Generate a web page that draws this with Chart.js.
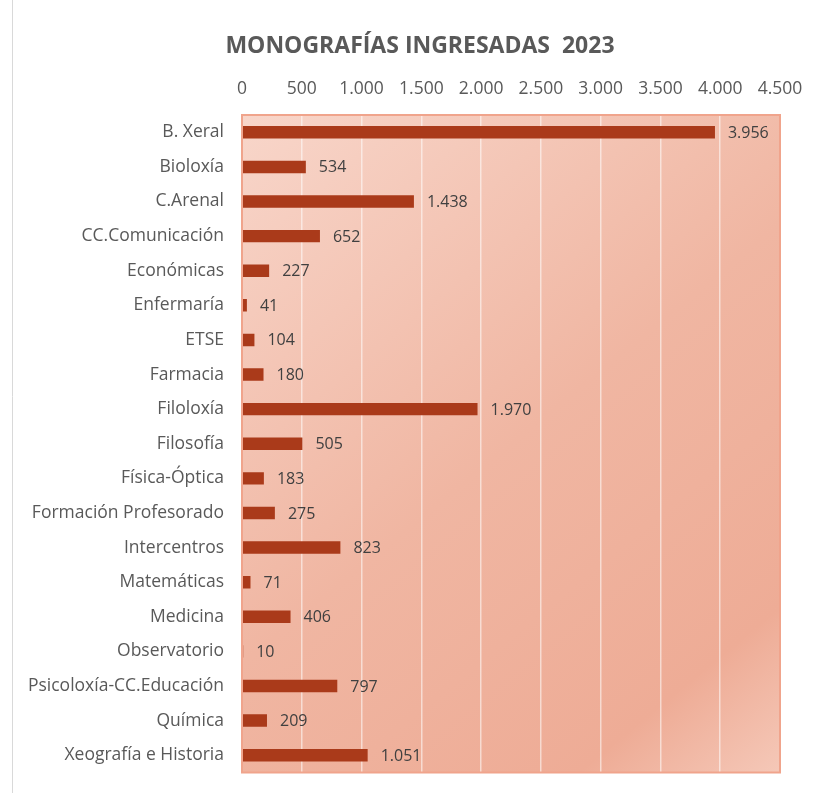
<!DOCTYPE html>
<html><head><meta charset="utf-8">
<script src="https://cdn.jsdelivr.net/npm/chart.js@4/dist/chart.umd.min.js"></script>
<style>html,body{margin:0;padding:0;background:#fff;}#wrap{width:819px;height:793px;position:relative;}</style>
</head><body><div id="wrap"><canvas id="c"></canvas></div>
<script>
const categories = ["B. Xeral","Bioloxía","C.Arenal","CC.Comunicación","Económicas","Enfermaría","ETSE","Farmacia","Filoloxía","Filosofía","Física-Óptica","Formación Profesorado","Intercentros","Matemáticas","Medicina","Observatorio","Psicoloxía-CC.Educación","Química","Xeografía e Historia"];
const values = [3956,534,1438,652,227,41,104,180,1970,505,183,275,823,71,406,10,797,209,1051];
const tickValues = [0,500,1000,1500,2000,2500,3000,3500,4000,4500];
const titleText = "MONOGRAFÍAS INGRESADAS  2023";

function fmt(n){ return String(n).replace(/\B(?=(\d{3})+(?!\d))/g, "."); }

const bgPlugin = {
  id:'bg',
  beforeDraw(chart){
    const {ctx, chartArea:a} = chart;
    ctx.save();
    const g = ctx.createLinearGradient(a.left, a.top, a.right, a.bottom);
    g.addColorStop(0, '#f8d6ca');
    g.addColorStop(0.5, '#f0b6a2');
    g.addColorStop(0.85, '#eeac96');
    g.addColorStop(1, '#f5c8b8');
    ctx.fillStyle = g;
    ctx.fillRect(a.left, a.top, a.right-a.left, a.bottom-a.top);
    ctx.strokeStyle = '#d9d9d9'; ctx.lineWidth = 1;
    ctx.beginPath(); ctx.moveTo(12.5, 0); ctx.lineTo(12.5, chart.height); ctx.stroke();
    ctx.fillStyle = '#595959';
    ctx.font = 'bold 23px "Open Sans", sans-serif';
    ctx.textAlign = 'center'; ctx.textBaseline = 'middle';
    ctx.fillText(titleText, 420, 46);
    ctx.restore();
  },
  afterDatasetsDraw(chart){
    const {ctx, chartArea:a} = chart;
    ctx.save();
    ctx.strokeStyle = '#f0a48c'; ctx.lineWidth = 2;
    ctx.strokeRect(a.left, a.top, a.right-a.left, a.bottom-a.top);
    const meta = chart.getDatasetMeta(0);
    ctx.fillStyle = '#404040';
    ctx.font = '16px "Open Sans", sans-serif';
    ctx.textAlign = 'left'; ctx.textBaseline = 'middle';
    meta.data.forEach((bar,i)=>{
      ctx.fillText(fmt(values[i]), bar.x + 13, bar.y + 1);
    });
    ctx.restore();
  }
};

new Chart(document.getElementById('c'), {
  type:'bar',
  data:{ labels: categories, datasets:[{ data: values, backgroundColor:'#aa3a1a', barPercentage:0.36, categoryPercentage:1 }]},
  options:{
    indexAxis:'y', responsive:true, maintainAspectRatio:false, animation:false,
    layout:{ padding:{ left:0, right:39, top:66, bottom:14 } },
    plugins:{ legend:{display:false}, tooltip:{enabled:false}, title:{display:false} },
    scales:{
      x:{ position:'top', min:0, max:4500,
        afterBuildTicks(s){ s.ticks = tickValues.map(v=>({value:v})); },
        afterFit(s){ s.height = 49; },
        grid:{ color:'rgba(255,255,255,0.55)', lineWidth:1.5, drawTicks:false },
        border:{ display:false },
        ticks:{ color:'#595959', font:{family:'"Open Sans", sans-serif', size:17.5}, padding:15, callback:(v)=>fmt(v), maxRotation:0, autoSkip:false }
      },
      y:{
        afterFit(s){ s.width = 242; },
        grid:{ display:false }, border:{display:false},
        ticks:{ color:'#595959', font:{family:'"Open Sans", sans-serif', size:17.5}, padding:10, autoSkip:false }
      }
    }
  },
  plugins:[bgPlugin]
});
</script></body></html>
